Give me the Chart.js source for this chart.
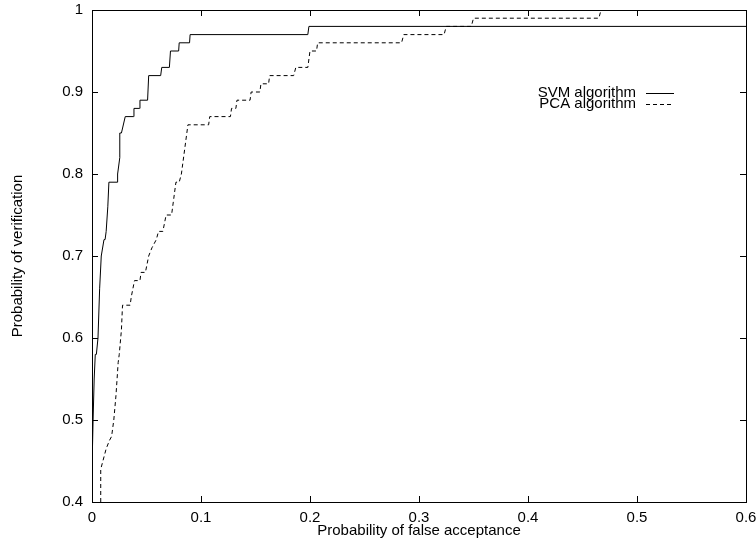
<!DOCTYPE html>
<html>
<head>
<meta charset="utf-8">
<script src="https://cdn.jsdelivr.net/npm/chart.js@4/dist/chart.umd.min.js"></script>
<style>
  html, body { margin: 0; padding: 0; background: #fff; }
  #roc { display: block; }
</style>
</head>
<body>
<canvas id="roc" width="756" height="541"></canvas>
<script>
// false acceptance (x) / verification (y)
var svmX = [0, 0.001, 0.002, 0.003, 0.004, 0.0055, 0.007, 0.0085, 0.011, 0.012, 0.013, 0.0145, 0.0155, 0.023, 0.0235, 0.0255, 0.0255, 0.027, 0.0305, 0.038, 0.0385, 0.0435, 0.044, 0.051, 0.052, 0.063, 0.064, 0.071, 0.072, 0.0795, 0.080, 0.0895, 0.090, 0.198, 0.199, 0.6];
var svmY = [0.44, 0.50, 0.55, 0.58, 0.58, 0.60, 0.66, 0.70, 0.72, 0.72, 0.73, 0.76, 0.79, 0.79, 0.80, 0.82, 0.85, 0.85, 0.87, 0.87, 0.88, 0.88, 0.89, 0.89, 0.92, 0.92, 0.93, 0.93, 0.95, 0.95, 0.96, 0.96, 0.97, 0.97, 0.98, 0.98];

var pcaX = [0.008, 0.008, 0.010, 0.013, 0.016, 0.018, 0.020, 0.022, 0.024, 0.025, 0.027, 0.028, 0.029, 0.035, 0.036, 0.039, 0.044, 0.045, 0.049, 0.052, 0.055, 0.059, 0.061, 0.065, 0.068, 0.073, 0.075, 0.077, 0.080, 0.082, 0.085, 0.088, 0.107, 0.108, 0.127, 0.128, 0.132, 0.133, 0.145, 0.146, 0.154, 0.155, 0.162, 0.163, 0.185, 0.187, 0.198, 0.200, 0.206, 0.207, 0.284, 0.286, 0.323, 0.325, 0.348, 0.350, 0.465, 0.467, 0.6];
var pcaY = [0.40, 0.44, 0.45, 0.465, 0.475, 0.48, 0.50, 0.53, 0.57, 0.58, 0.61, 0.64, 0.64, 0.64, 0.65, 0.67, 0.67, 0.68, 0.68, 0.70, 0.71, 0.72, 0.73, 0.73, 0.75, 0.75, 0.77, 0.79, 0.79, 0.80, 0.83, 0.86, 0.86, 0.87, 0.87, 0.88, 0.88, 0.89, 0.89, 0.90, 0.90, 0.91, 0.91, 0.92, 0.92, 0.93, 0.93, 0.95, 0.95, 0.96, 0.96, 0.97, 0.97, 0.98, 0.98, 0.99, 0.99, 1.0, 1.0];

var seriesNames = ["SVM algorithm", "PCA algorithm"];
var xTitle = "Probability of false acceptance";
var yTitle = "Probability of verification";

var FONT = "'Liberation Sans', Arial, Helvetica, sans-serif";

function toPoints(xs, ys) {
    var pts = [];
    for (var i = 0; i < xs.length; i++) pts.push({ x: xs[i], y: ys[i] });
    return pts;
}

// no overflow padding from the tick labels, the frame sits where we put it
function noOverflow(scale) {
    scale.paddingTop = 0;
    scale.paddingBottom = 0;
    scale.paddingLeft = 0;
    scale.paddingRight = 0;
}

// gnuplot style frame with inward ticks on all four sides
var framePlugin = {
    id: "frame",
    afterDraw: function (chart) {
        var ctx = chart.ctx, a = chart.chartArea;
        var xs = chart.scales.x, ys = chart.scales.y;
        var len = 6;
        ctx.save();
        ctx.strokeStyle = "#000";
        ctx.lineWidth = 1;
        ctx.beginPath();
        xs.ticks.forEach(function (t) {
            var px = Math.round(xs.getPixelForValue(t.value)) + 0.5;
            ctx.moveTo(px, a.bottom); ctx.lineTo(px, a.bottom - len);
            ctx.moveTo(px, a.top); ctx.lineTo(px, a.top + len);
        });
        ys.ticks.forEach(function (t) {
            var py = Math.round(ys.getPixelForValue(t.value)) + 0.5;
            ctx.moveTo(a.left, py); ctx.lineTo(a.left + len, py);
            ctx.moveTo(a.right, py); ctx.lineTo(a.right - len, py);
        });
        ctx.stroke();
        ctx.strokeRect(Math.round(a.left) + 0.5, Math.round(a.top) + 0.5,
            Math.round(a.right - a.left), Math.round(a.bottom - a.top));

        // key, right aligned text with line samples
        ctx.font = "15px " + FONT;
        ctx.fillStyle = "#000";
        ctx.textAlign = "right";
        ctx.textBaseline = "middle";
        var keyRight = 636, rows = [93, 104];
        chart.data.datasets.forEach(function (ds, i) {
            ctx.fillText(ds.label, keyRight, rows[i]);
            ctx.beginPath();
            ctx.setLineDash(ds.borderDash || []);
            ctx.moveTo(646, rows[i] + 0.5);
            ctx.lineTo(674, rows[i] + 0.5);
            ctx.stroke();
        });
        ctx.restore();
    }
};

var ctx = document.getElementById("roc").getContext("2d");
new Chart(ctx, {
    type: "scatter",
    data: {
        datasets: [
            {
                label: seriesNames[0],
                data: toPoints(svmX, svmY),
                showLine: true,
                borderColor: "#000",
                borderWidth: 1,
                pointRadius: 0,
                tension: 0
            },
            {
                label: seriesNames[1],
                data: toPoints(pcaX, pcaY),
                showLine: true,
                borderColor: "#000",
                borderWidth: 1,
                borderDash: [4, 3],
                pointRadius: 0,
                tension: 0
            }
        ]
    },
    options: {
        responsive: false,
        animation: false,
        layout: { padding: { top: 10, right: 10, left: 0, bottom: 0 } },
        plugins: {
            legend: { display: false },
            tooltip: { enabled: false }
        },
        scales: {
            x: {
                type: "linear",
                min: 0,
                max: 0.6,
                grid: { display: false, drawTicks: false },
                border: { display: false },
                ticks: {
                    stepSize: 0.1,
                    padding: 7,
                    color: "#000",
                    font: { family: FONT, size: 15 },
                    maxRotation: 0,
                    callback: function (v) { return v === 0 ? "0" : v.toFixed(1); }
                },
                title: {
                    display: true,
                    text: xTitle,
                    color: "#000",
                    font: { family: FONT, size: 15 },
                    padding: { top: 0, bottom: 1 }
                },
                afterFit: function (scale) { scale.height = 39; noOverflow(scale); }
            },
            y: {
                type: "linear",
                min: 0.4,
                max: 1,
                grid: { display: false, drawTicks: false },
                border: { display: false },
                ticks: {
                    stepSize: 0.1,
                    padding: 9,
                    color: "#000",
                    font: { family: FONT, size: 15 },
                    callback: function (v) { return v === 1 ? "1" : v.toFixed(1); }
                },
                title: {
                    display: true,
                    text: yTitle,
                    color: "#000",
                    font: { family: FONT, size: 15 },
                    padding: { top: 9, bottom: 0 }
                },
                afterFit: function (scale) { scale.width = 92; noOverflow(scale); }
            }
        }
    },
    plugins: [framePlugin]
});
</script>
</body>
</html>
